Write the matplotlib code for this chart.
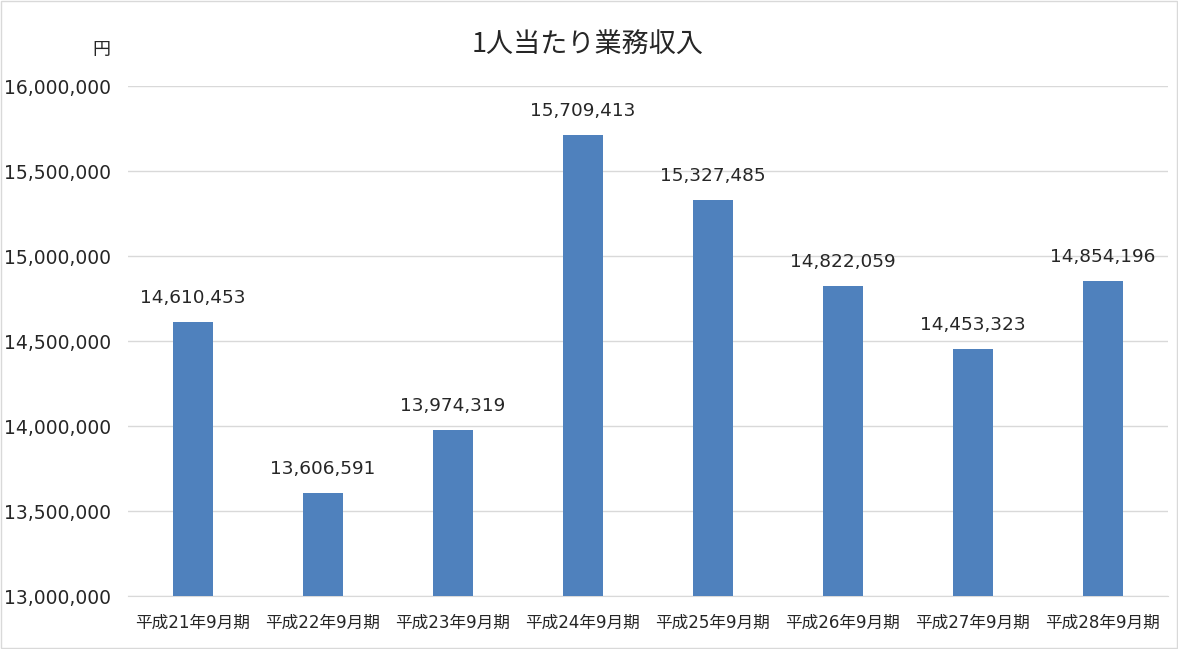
import matplotlib
matplotlib.use("Agg")
import matplotlib.pyplot as plt
from matplotlib.ticker import FuncFormatter, MultipleLocator
from matplotlib.patches import Rectangle

plt.rcParams['font.family'] = ['DejaVu Sans', 'Noto Sans CJK JP']

categories = ["平成21年9月期", "平成22年9月期", "平成23年9月期", "平成24年9月期",
              "平成25年9月期", "平成26年9月期", "平成27年9月期", "平成28年9月期"]
values = [14610453, 13606591, 13974319, 15709413, 15327485, 14822059, 14453323, 14854196]
title = "1人当たり業務収入"
unit = "円"

fig = plt.figure(figsize=(11.78, 6.49), dpi=100)
ax = fig.add_axes([128/1178, 1-596/649, 1040/1178, 510/649])

x = list(range(len(categories)))
ax.bar(x, values, width=0.31, color="#4F81BD", zorder=3)
for xi, v in zip(x, values):
    ax.annotate(f"{v:,}", (xi, v), xytext=(0, 11), textcoords="offset points",
                ha="center", va="bottom", fontsize=13.3, color="#262626")

ax.set_xlim(-0.5, len(categories) - 0.5)
ax.set_ylim(13000000, 16000000)
ax.yaxis.set_major_locator(MultipleLocator(500000))
ax.yaxis.set_major_formatter(FuncFormatter(lambda v, p: f"{int(v):,}"))
ax.set_xticks(x)
ax.set_xticklabels(categories, fontsize=12, color="#262626")
ax.tick_params(axis="y", labelsize=13.5, colors="#262626", length=0, pad=12)
ax.tick_params(axis="x", length=0, pad=13)
ax.grid(axis="y", color="#D9D9D9", linewidth=1, zorder=0)
for s in ["top", "right", "left"]:
    ax.spines[s].set_visible(False)
ax.spines["bottom"].set_color("#D9D9D9")

fig.text(588/1178, 1-45/649, title, ha="center", va="center", fontsize=19.5,
         color="#262626", family=['Noto Sans CJK JP', 'DejaVu Sans'])
fig.text(101/1178, 1-50/649, unit, ha="center", va="center", fontsize=13,
         color="#262626", family=['Noto Sans CJK JP', 'DejaVu Sans'])

fig.patches.append(Rectangle((0.001, 0.001), 0.998, 0.998, transform=fig.transFigure,
                             fill=False, edgecolor="#D9D9D9", linewidth=1))

fig.savefig("out.png", dpi=100)
